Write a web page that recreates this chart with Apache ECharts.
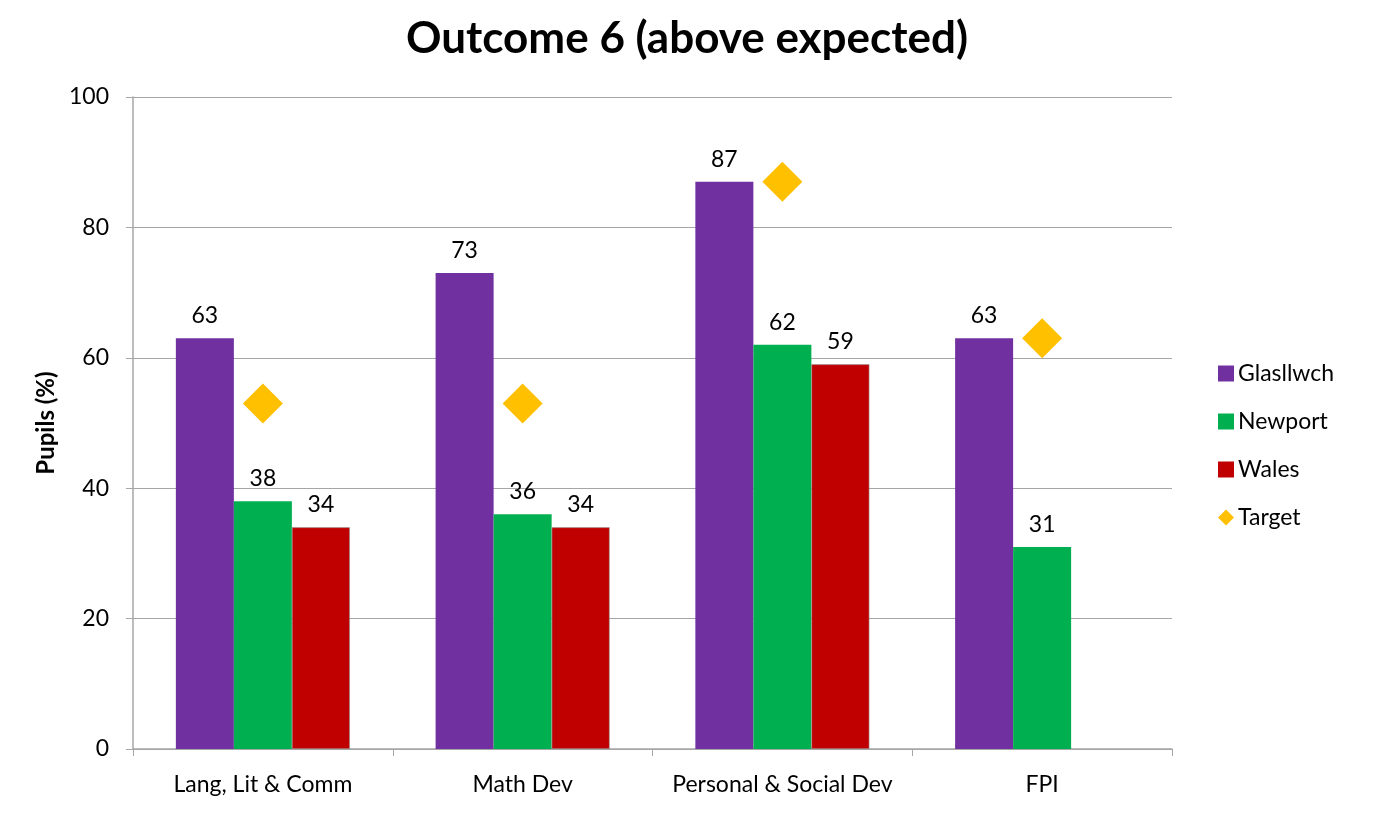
<!DOCTYPE html>
<html>
<head>
<meta charset="utf-8">
<script src="https://cdn.jsdelivr.net/npm/echarts@6/dist/echarts.min.js"></script>
<style>
  html, body { margin: 0; padding: 0; background: #fff; }
  #chart { width: 1378px; height: 820px; }
</style>
</head>
<body>
<div id="chart"></div>
<script>
// Outcome 6 (above expected) — pupils (%) by area of learning
const categories = ['Lang, Lit & Comm', 'Math Dev', 'Personal & Social Dev', 'FPI'];
const glasllwch = [63, 73, 87, 63];
const newport = [38, 36, 62, 31];
const wales = [34, 34, 59, null];
const target = [53, 53, 87, 63];
const yTicks = { min: 0, max: 100, interval: 20 };

const FONT = 'Lato, "Open Sans", sans-serif';
const TEXT_SIZE = 23;
const chart = echarts.init(document.getElementById('chart'), null, { renderer: 'canvas' });

const labelStyle = {
  show: true,
  position: 'top',
  distance: 11,
  color: '#000',
  fontSize: TEXT_SIZE,
  fontFamily: FONT
};

chart.setOption({
  animation: false,
  backgroundColor: '#fff',
  title: {
    text: 'Outcome 6 (above expected)',
    left: 682,
    textAlign: 'center',
    top: 12,
    textStyle: { fontSize: 44, fontWeight: 'bold', color: '#000', fontFamily: FONT }
  },
  legend: {
    orient: 'vertical',
    left: 1213,
    top: 357,
    itemWidth: 16,
    itemHeight: 16,
    itemGap: 25,
    textStyle: { fontSize: TEXT_SIZE, color: '#000', fontFamily: FONT, padding: [0, 0, 0, -1] },
    data: [
      { name: 'Glasllwch', icon: 'rect' },
      { name: 'Newport', icon: 'rect' },
      { name: 'Wales', icon: 'rect', itemStyle: { borderWidth: 0 } },
      { name: 'Target', icon: 'diamond' }
    ]
  },
  grid: { left: 133, right: 206, top: 97, bottom: 71, containLabel: false },
  xAxis: {
    type: 'category',
    data: categories,
    axisLine: { lineStyle: { color: '#A6A6A6', width: 1.5 } },
    axisTick: { show: true, alignWithLabel: false, length: 7, lineStyle: { color: '#A6A6A6' } },
    axisLabel: { color: '#000', fontSize: TEXT_SIZE, fontFamily: FONT, margin: 24, interval: 0 }
  },
  yAxis: {
    type: 'value',
    min: yTicks.min,
    max: yTicks.max,
    interval: yTicks.interval,
    name: 'Pupils (%)',
    nameLocation: 'middle',
    nameRotate: 90,
    nameGap: 74,
    nameTextStyle: { fontSize: 24, fontWeight: 'bold', color: '#000', fontFamily: FONT },
    axisLine: { show: true, lineStyle: { color: '#A6A6A6', width: 1.5 } },
    axisTick: { show: true, length: 7, lineStyle: { color: '#A6A6A6' } },
    axisLabel: { color: '#000', fontSize: TEXT_SIZE, fontFamily: FONT, margin: 24 },
    splitLine: { show: true, lineStyle: { color: '#A6A6A6', width: 1.2 } }
  },
  series: [
    {
      name: 'Glasllwch', type: 'bar', data: glasllwch,
      barGap: '0%', barCategoryGap: '33%',
      itemStyle: { color: '#7030A0' },
      label: labelStyle
    },
    {
      name: 'Newport', type: 'bar', data: newport,
      barGap: '0%', barCategoryGap: '33%',
      itemStyle: { color: '#00B050' },
      label: labelStyle
    },
    {
      name: 'Wales', type: 'bar', data: wales,
      barGap: '0%', barCategoryGap: '33%',
      itemStyle: { color: '#C00000', borderColor: '#9a9a9a', borderWidth: 0.6 },
      label: labelStyle
    },
    {
      name: 'Target', type: 'scatter', data: target,
      symbol: 'diamond', symbolSize: [40, 40],
      itemStyle: { color: '#FFC000', opacity: 1 },
      z: 5
    }
  ]
});
</script>
</body>
</html>
